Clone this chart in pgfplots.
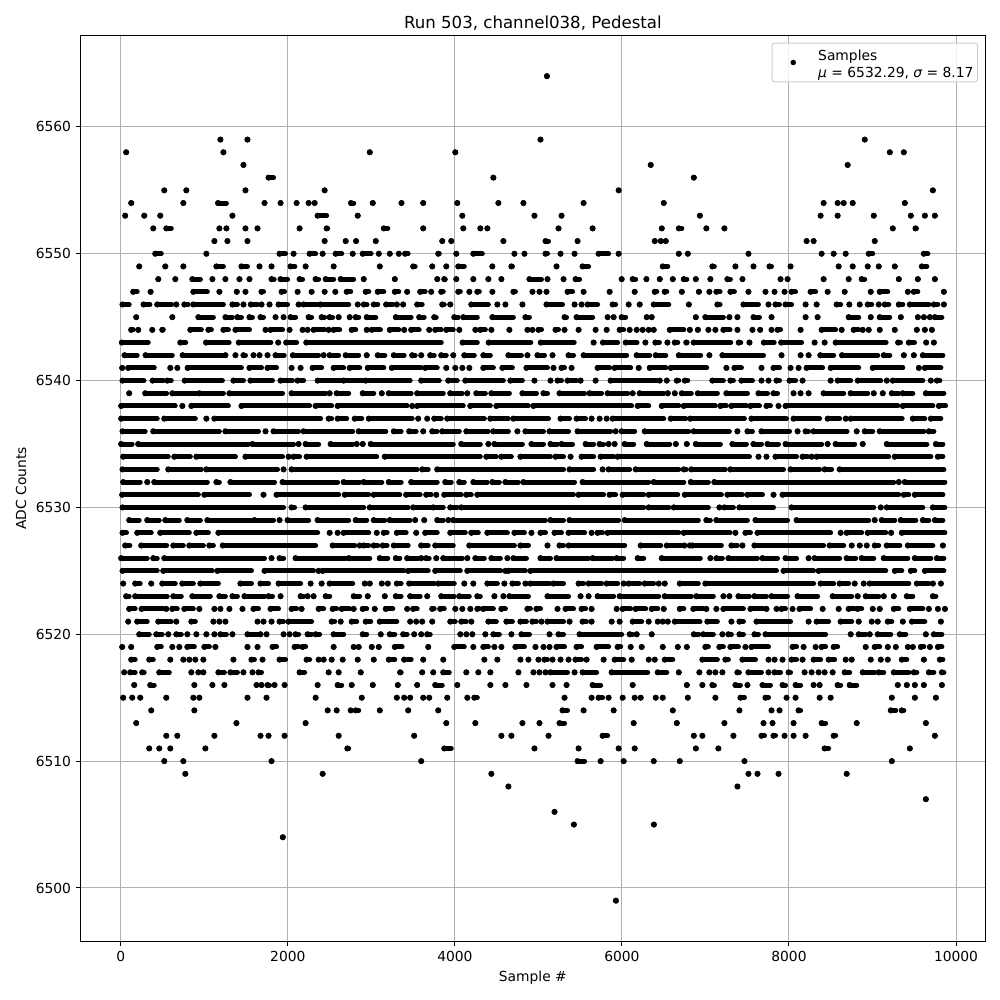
\documentclass[border=0pt]{standalone}
\usepackage{fontspec}
\setmainfont{DejaVu Sans}
\usepackage{pgfplots}
\usepackage{pgfplotstable}
\pgfplotsset{compat=1.18}
\definecolor{gridc}{HTML}{B0B0B0}
\definecolor{legc}{HTML}{CCCCCC}
% a = first sample of a run of touching dots, b = last sample of it, y = ADC level
\pgfplotstableread[row sep=\\]{
a b y\\
5102 5102 6564\\
1193 1193 6559\\1517 1517 6559\\5025 5025 6559\\8907 8907 6559\\
65 65 6558\\1229 1229 6558\\2981 2981 6558\\4005 4005 6558\\9207 9207 6558\\9375 9375 6558\\
1469 1469 6557\\6345 6345 6557\\8703 8703 6557\\
1769 1829 6556\\4461 4461 6556\\6861 6861 6556\\
521 521 6555\\785 785 6555\\1493 1493 6555\\2441 2441 6555\\5961 5961 6555\\9723 9723 6555\\
125 125 6554\\749 749 6554\\1165 1265 6554\\1721 1721 6554\\1913 1913 6554\\2105 2105 6554\\2249 2249 6554\\2321 2321 6554\\2757 2789 6554\\3017 3017 6554\\3361 3361 6554\\3621 3621 6554\\4029 4029 6554\\4521 4521 6554\\4821 4821 6554\\5541 5541 6554\\6501 6501 6554\\8415 8415 6554\\8583 8583 6554\\8655 8655 6554\\8763 8763 6554\\9387 9387 6554\\
53 53 6553\\281 281 6553\\473 473 6553\\1337 1337 6553\\2357 2465 6553\\2837 2837 6553\\4089 4089 6553\\4953 4953 6553\\5277 5277 6553\\6933 6933 6553\\8379 8379 6553\\8583 8583 6553\\9015 9015 6553\\9459 9459 6553\\9627 9627 6553\\9747 9747 6553\\
389 389 6552\\545 605 6552\\1181 1181 6552\\1265 1265 6552\\1493 1493 6552\\1637 1637 6552\\2141 2141 6552\\2465 2477 6552\\3149 3197 6552\\3621 3621 6552\\4101 4101 6552\\4305 4305 6552\\4389 4389 6552\\5241 5241 6552\\5649 5649 6552\\6477 6477 6552\\6681 6717 6552\\7011 7011 6552\\7227 7227 6552\\9243 9243 6552\\9515 9525 6552\\
1121 1121 6551\\1277 1277 6551\\1517 1517 6551\\2441 2441 6551\\2693 2693 6551\\2817 2817 6551\\3053 3053 6551\\3849 3849 6551\\3957 3957 6551\\4581 4581 6551\\5085 5121 6551\\5469 5469 6551\\6393 6393 6551\\6465 6465 6551\\6525 6525 6551\\8211 8211 6551\\8295 8295 6551\\9027 9027 6551\\
413 485 6550\\1025 1025 6550\\1901 1973 6550\\2069 2069 6550\\2261 2333 6550\\2417 2417 6550\\2573 2645 6550\\2777 2777 6550\\2897 2997 6550\\3089 3089 6550\\3221 3221 6550\\3329 3329 6550\\3405 3441 6550\\3801 3813 6550\\4017 4017 6550\\4221 4329 6550\\4713 4713 6550\\4833 4833 6550\\5085 5109 6550\\5265 5265 6550\\5433 5433 6550\\5721 5841 6550\\5961 5961 6550\\6681 6681 6550\\6789 6789 6550\\7515 7515 6550\\8391 8391 6550\\8535 8535 6550\\8679 8679 6550\\8955 9003 6550\\9615 9663 6550\\
221 221 6549\\533 533 6549\\749 749 6549\\1145 1229 6549\\1445 1517 6549\\1661 1661 6549\\1805 1805 6549\\2033 2085 6549\\2213 2213 6549\\2549 2549 6549\\3101 3101 6549\\3501 3525 6549\\3729 3729 6549\\3897 3897 6549\\4041 4113 6549\\4449 4449 6549\\4677 4689 6549\\5217 5217 6549\\5529 5601 6549\\6489 6549 6549\\7083 7107 6549\\7359 7359 6549\\7575 7575 6549\\7767 7791 6549\\8019 8019 6549\\8595 8595 6549\\8763 8763 6549\\8943 8943 6549\\9075 9075 6549\\9267 9267 6549\\9591 9651 6549\\
449 449 6548\\653 653 6548\\857 953 6548\\1097 1097 6548\\1253 1253 6548\\1421 1421 6548\\1541 1541 6548\\1805 1837 6548\\1913 1997 6548\\2141 2177 6548\\2333 2369 6548\\2453 2549 6548\\2633 2789 6548\\2909 2909 6548\\3281 3281 6548\\3789 3789 6548\\3873 3885 6548\\4017 4017 6548\\4221 4221 6548\\4401 4401 6548\\4557 4557 6548\\4893 5037 6548\\5109 5109 6548\\5301 5301 6548\\5445 5493 6548\\5997 5997 6548\\6129 6165 6548\\6293 6293 6548\\6453 6453 6548\\6609 6609 6548\\6741 6777 6548\\6885 6885 6548\\7059 7059 6548\\7263 7299 6548\\7443 7443 6548\\7899 7899 6548\\7983 7983 6548\\8415 8415 6548\\8715 8715 6548\\8871 8907 6548\\9315 9315 6548\\9543 9543 6548\\9747 9747 6548\\
149 197 6547\\357 357 6547\\869 1037 6547\\1181 1181 6547\\1389 1389 6547\\1493 1493 6547\\1685 1709 6547\\1925 1961 6547\\2117 2117 6547\\2285 2285 6547\\2441 2441 6547\\2569 2569 6547\\2705 2753 6547\\2933 2969 6547\\3077 3149 6547\\3281 3329 6547\\3429 3429 6547\\3585 3645 6547\\3717 3717 6547\\3837 3861 6547\\4041 4065 6547\\4173 4173 6547\\4269 4293 6547\\4449 4449 6547\\4701 4725 6547\\4929 4929 6547\\5013 5013 6547\\5097 5097 6547\\5349 5409 6547\\5541 5541 6547\\5853 5853 6547\\6153 6153 6547\\6393 6417 6547\\6513 6537 6547\\6717 6717 6547\\6921 6927 6547\\7047 7047 6547\\7131 7175 6547\\7299 7347 6547\\7515 7515 6547\\7719 7719 6547\\7827 7827 6547\\7947 7947 6547\\8031 8079 6547\\8259 8319 6547\\8463 8463 6547\\8667 8667 6547\\8979 8979 6547\\9087 9183 6547\\9423 9423 6547\\9495 9543 6547\\9855 9855 6547\\
21 101 6546\\273 349 6546\\437 609 6546\\665 665 6546\\761 809 6546\\869 1229 6546\\1337 1397 6546\\1469 1469 6546\\1557 1637 6546\\1685 1685 6546\\1781 1781 6546\\1889 1997 6546\\2129 2129 6546\\2189 2349 6546\\2389 2729 6546\\2837 2837 6546\\2909 2949 6546\\3029 3077 6546\\3177 3257 6546\\3305 3305 6546\\3381 3381 6546\\3549 3609 6546\\3849 3873 6546\\3945 3945 6546\\4197 4401 6546\\4509 4509 6546\\4605 4605 6546\\4809 4809 6546\\5097 5289 6546\\5433 5433 6546\\5517 5517 6546\\5589 5709 6546\\5889 5925 6546\\6081 6081 6546\\6213 6213 6546\\6381 6561 6546\\6801 6801 6546\\7143 7175 6546\\7455 7635 6546\\7755 7755 6546\\7839 7887 6546\\7959 8031 6546\\8199 8199 6546\\8331 8331 6546\\8571 8619 6546\\8723 8723 6546\\8847 8847 6546\\8943 8991 6546\\9075 9075 6546\\9147 9195 6546\\9315 9363 6546\\9447 9675 6546\\9735 9783 6546\\9855 9855 6546\\
185 185 6545\\617 617 6545\\929 1109 6545\\1253 1337 6545\\1397 1445 6545\\1541 1577 6545\\1673 1709 6545\\1853 1853 6545\\1949 1949 6545\\2033 2093 6545\\2249 2285 6545\\2405 2441 6545\\2501 2537 6545\\2609 2609 6545\\2741 2741 6545\\2813 2849 6545\\2945 3053 6545\\3293 3477 6545\\3573 3633 6545\\3753 3777 6545\\3993 4041 6545\\4101 4269 6545\\4449 4701 6545\\4845 4893 6545\\5313 5337 6545\\5457 5649 6545\\5829 5829 6545\\5901 5901 6545\\5997 6045 6545\\6297 6297 6545\\6357 6357 6545\\6885 6887 6545\\6999 7215 6545\\7287 7287 6545\\7383 7383 6545\\7575 7647 6545\\7791 7791 6545\\8199 8199 6545\\8343 8343 6545\\8715 8835 6545\\8979 8979 6545\\9087 9207 6545\\9339 9339 6545\\9543 9543 6545\\9615 9615 6545\\9687 9687 6545\\9747 9831 6545\\
125 149 6544\\209 209 6544\\377 377 6544\\497 509 6544\\833 965 6544\\1049 1085 6544\\1229 1289 6544\\1373 1541 6544\\1733 1733 6544\\1793 1937 6544\\2021 2021 6544\\2177 2177 6544\\2237 2237 6544\\2309 2441 6544\\2489 2489 6544\\2549 2621 6544\\2765 2813 6544\\2945 2945 6544\\3005 3109 6544\\3221 3329 6544\\3393 3393 6544\\3477 3573 6544\\3693 3693 6544\\3765 3837 6544\\3897 3981 6544\\4053 4053 6544\\4245 4245 6544\\4305 4365 6544\\4437 4437 6544\\4653 4653 6544\\4869 4869 6544\\4929 4929 6544\\5001 5037 6544\\5205 5241 6544\\5313 5313 6544\\5481 5481 6544\\5685 5685 6544\\5817 5817 6544\\5973 6021 6544\\6093 6093 6544\\6177 6177 6544\\6249 6249 6544\\6321 6321 6544\\6381 6381 6544\\6573 6741 6544\\6813 6813 6544\\6909 6915 6544\\7035 7035 6544\\7119 7119 6544\\7215 7295 6544\\7383 7383 6544\\7563 7563 6544\\7655 7655 6544\\7791 7791 6544\\7863 7899 6544\\8139 8139 6544\\8391 8559 6544\\8631 8631 6544\\8775 8835 6544\\8883 8883 6544\\8955 8955 6544\\9087 9087 6544\\9267 9267 6544\\9531 9531 6544\\9627 9627 6544\\9711 9711 6544\\
13 329 6543\\713 777 6543\\1021 1297 6543\\1413 1797 6543\\1885 1885 6543\\1981 2105 6543\\2221 3837 6543\\4093 4269 6543\\4405 4909 6543\\5029 5429 6543\\5661 5661 6543\\5773 5949 6543\\6045 6181 6543\\6281 6281 6543\\6401 6449 6543\\6545 6545 6543\\6633 6669 6543\\6771 6781 6543\\6859 7303 6543\\7399 7423 6543\\7527 7527 6543\\7699 7823 6543\\7907 8151 6543\\8307 8307 6543\\8427 8427 6543\\8559 9163 6543\\9307 9335 6543\\9435 9503 6543\\9643 9643 6543\\9735 9735 6543\\
45 197 6542\\297 617 6542\\741 1221 6542\\1253 1253 6542\\1373 1373 6542\\1469 1493 6542\\1589 1589 6542\\1661 1661 6542\\1757 1757 6542\\1853 1957 6542\\2061 2369 6542\\2429 2429 6542\\2501 2609 6542\\2693 2849 6542\\2945 2945 6542\\3077 3161 6542\\3269 3393 6542\\3489 3525 6542\\3597 3597 6542\\3705 3753 6542\\3837 3897 6542\\3981 3981 6542\\4113 4233 6542\\4341 4425 6542\\4641 4797 6542\\4869 4869 6542\\4989 5073 6542\\5169 5169 6542\\5361 5421 6542\\5541 6057 6542\\6177 6333 6542\\6405 6525 6542\\6681 6943 6542\\7047 7047 6542\\7203 7695 6542\\7911 7911 6542\\8139 8139 6542\\8235 8235 6542\\8375 8535 6542\\8635 9063 6542\\9135 9207 6542\\9375 9375 6542\\9495 9495 6542\\9603 9843 6542\\
17 17 6541\\89 401 6541\\593 593 6541\\677 677 6541\\801 1445 6541\\1541 1685 6541\\1757 1865 6541\\2045 2045 6541\\2153 2153 6541\\2297 2405 6541\\2549 2669 6541\\2741 2861 6541\\2957 3149 6541\\3245 3597 6541\\3645 3789 6541\\3897 3897 6541\\4005 4005 6541\\4089 4089 6541\\4173 4173 6541\\4341 4461 6541\\4569 4689 6541\\4857 5109 6541\\5181 5181 6541\\5277 5313 6541\\5397 5397 6541\\5709 5853 6541\\5913 6105 6541\\6201 6201 6541\\6333 6525 6541\\6585 7015 6541\\7251 7251 6541\\7347 7431 6541\\7671 7671 6541\\7815 7887 6541\\8019 8019 6541\\8115 8115 6541\\8211 8403 6541\\8499 8835 6541\\9003 9363 6541\\9555 9555 6541\\9627 9819 6541\\
21 277 6540\\381 509 6540\\557 605 6540\\765 1217 6540\\1349 1469 6540\\1553 1817 6540\\1913 2057 6540\\2117 2189 6540\\2357 2645 6540\\2669 2909 6540\\2933 3465 6540\\3597 3813 6540\\3921 4029 6540\\4125 4581 6540\\4665 4809 6540\\4953 4953 6540\\5145 5145 6540\\5229 5277 6540\\5349 5457 6540\\5505 5505 6540\\5685 5685 6540\\5865 6417 6540\\6453 6453 6540\\6537 6537 6540\\6657 6681 6540\\6753 6789 6540\\7083 7215 6540\\7299 7335 6540\\7431 7563 6540\\7671 7671 6540\\7755 7755 6540\\7851 7887 6540\\8007 8079 6540\\8163 8163 6540\\8499 8499 6540\\8583 8739 6540\\8823 9099 6540\\9171 9171 6540\\9243 9603 6540\\9699 9699 6540\\9771 9807 6540\\
101 101 6539\\293 549 6539\\617 909 6539\\941 1229 6539\\1301 1937 6539\\2045 2453 6539\\2501 2501 6539\\2585 2729 6539\\2897 3029 6539\\3125 3125 6539\\3209 3477 6539\\3549 3861 6539\\3945 4089 6539\\4149 4149 6539\\4257 4365 6539\\4437 4653 6539\\4809 4977 6539\\5061 5109 6539\\5253 5553 6539\\5613 5757 6539\\5829 6069 6539\\6129 6129 6539\\6213 6501 6539\\6549 6549 6539\\6633 6633 6539\\6717 6831 6539\\6909 7143 6539\\7251 7503 6539\\7635 7743 6539\\7815 7863 6539\\8055 8055 6539\\8139 8139 6539\\8235 8235 6539\\8415 8655 6539\\8739 8943 6539\\9015 9015 6539\\9123 9123 6539\\9231 9315 6539\\9363 9483 6539\\9639 9855 6539\\
5 653 6538\\737 737 6538\\845 1289 6538\\1445 2261 6538\\2333 2525 6538\\2597 3429 6538\\3489 3489 6538\\3549 4101 6538\\4185 4425 6538\\4497 4881 6538\\4941 6117 6538\\6189 6321 6538\\6477 6681 6538\\6741 7119 6538\\7179 7251 6538\\7311 7491 6538\\7539 7647 6538\\7731 7779 6538\\7875 7875 6538\\7959 9303 6538\\9363 9723 6538\\9795 9875 6538\\
5 437 6537\\521 893 6537\\1025 1025 6537\\1121 2393 6537\\2489 2525 6537\\2597 2705 6537\\2801 2885 6537\\2969 3489 6537\\3561 3561 6537\\3669 3669 6537\\3753 3837 6537\\3909 4353 6537\\4425 4641 6537\\4701 5121 6537\\5265 5373 6537\\5457 5565 6537\\5637 5637 6537\\5733 5733 6537\\5817 5817 6537\\5889 6501 6537\\6585 6765 6537\\6819 7467 6537\\7551 7971 6537\\8055 8367 6537\\8463 8607 6537\\8679 8679 6537\\8739 9355 6537\\9483 9627 6537\\9699 9819 6537\\
21 293 6536\\389 1181 6536\\1253 1649 6536\\1733 1733 6536\\1829 2129 6536\\2189 2777 6536\\2849 3173 6536\\3269 3357 6536\\3453 3537 6536\\3621 3621 6536\\3729 3789 6536\\3849 4053 6536\\4137 4401 6536\\4461 4641 6536\\4749 4749 6536\\4845 5061 6536\\5133 5361 6536\\5469 5865 6536\\5925 5925 6536\\5997 6153 6536\\6273 6801 6536\\6861 7287 6536\\7383 7383 6536\\7503 7563 6536\\7671 8007 6536\\8103 8103 6536\\8199 8235 6536\\8295 8695 6536\\8811 8811 6536\\8907 9003 6536\\9087 9615 6536\\9675 9735 6536\\
5 137 6535\\209 1529 6535\\1577 2069 6535\\2129 2129 6535\\2213 2369 6535\\2513 2777 6535\\2825 2825 6535\\2897 2897 6535\\2993 3981 6535\\4077 4305 6535\\4401 4401 6535\\4473 4809 6535\\4917 5061 6535\\5145 5229 6535\\5277 5409 6535\\5565 5661 6535\\5733 5781 6535\\5841 5841 6535\\5913 5913 6535\\6033 6141 6535\\6297 6573 6535\\6645 6645 6535\\6777 6777 6535\\6885 7179 6535\\7323 7491 6535\\7575 7671 6535\\7743 7875 6535\\7959 8391 6535\\8463 8463 6535\\8559 8787 6535\\8883 8883 6535\\9171 9651 6535\\9759 9843 6535\\
29 569 6534\\641 833 6534\\905 1373 6534\\1493 1937 6534\\2009 2009 6534\\2069 2141 6534\\2225 3065 6534\\3161 4305 6534\\4377 4497 6534\\4557 4677 6534\\4785 5145 6534\\5205 5301 6534\\5385 5385 6534\\5517 5661 6534\\5745 5901 6534\\5949 7527 6534\\7635 7635 6534\\7731 7731 6534\\7839 8091 6534\\8163 8223 6534\\8271 8271 6534\\8331 9195 6534\\9267 9699 6534\\9783 9843 6534\\
21 437 6533\\569 965 6533\\1025 1877 6533\\1949 1949 6533\\2045 3549 6533\\3609 3681 6533\\3789 5301 6533\\5373 5661 6533\\5769 5769 6533\\5841 6093 6533\\6165 6681 6533\\6741 6771 6533\\6831 7239 6533\\7299 7935 6533\\8019 8367 6533\\8427 8511 6533\\8607 9855 6533\\
29 233 6532\\317 317 6532\\401 1037 6532\\1145 1181 6532\\1313 1841 6532\\1937 2597 6532\\2669 2861 6532\\2909 3125 6532\\3209 3357 6532\\3477 3789 6532\\3885 3957 6532\\4053 4113 6532\\4221 4389 6532\\4449 4533 6532\\4605 4761 6532\\4821 5433 6532\\5529 6321 6532\\6381 6741 6532\\6825 7035 6532\\7107 9255 6532\\9315 9315 6532\\9387 9867 6532\\
17 929 6531\\1001 1541 6531\\1709 1709 6531\\1865 2609 6531\\2681 2969 6531\\3029 3341 6531\\3417 3585 6531\\3657 3717 6531\\3777 3777 6531\\3873 4077 6531\\4137 4197 6531\\4269 5421 6531\\5481 5781 6531\\5853 5925 6531\\6009 6261 6531\\6321 6669 6531\\6753 7191 6531\\7263 7443 6531\\7503 7683 6531\\7815 7815 6531\\7923 9315 6531\\9375 9435 6531\\9507 9843 6531\\
21 1949 6530\\2045 2081 6530\\2213 2909 6530\\2981 3441 6530\\3501 3717 6530\\3741 3861 6530\\3945 4029 6530\\4077 6261 6530\\6321 6561 6530\\6621 7035 6530\\7167 7167 6530\\7227 7335 6530\\7407 7815 6530\\8031 9015 6530\\9099 9099 6530\\9171 9603 6530\\9723 9867 6530\\
101 221 6529\\317 461 6529\\533 701 6529\\797 953 6529\\1037 1577 6529\\1601 1829 6529\\1901 1901 6529\\1997 2249 6529\\2357 2729 6529\\2813 2945 6529\\3029 3161 6529\\3221 3465 6529\\3525 3525 6529\\3633 3633 6529\\3789 3861 6529\\3921 3921 6529\\3981 5085 6529\\5145 5301 6529\\5373 5961 6529\\6033 6915 6529\\7011 7059 6529\\7131 7503 6529\\7599 7983 6529\\8091 8955 6529\\9027 9027 6529\\9111 9267 6529\\9339 9519 6529\\9603 9675 6529\\9747 9843 6529\\
21 69 6528\\197 365 6528\\473 821 6528\\905 1049 6528\\1169 2357 6528\\2501 2501 6528\\2597 2597 6528\\2669 2969 6528\\3065 3065 6528\\3149 3189 6528\\3305 3417 6528\\3537 3537 6528\\3645 3789 6528\\3945 4125 6528\\4197 4281 6528\\4389 4629 6528\\4713 4833 6528\\4917 4917 6528\\5025 5085 6528\\5193 5277 6528\\5361 5553 6528\\5637 5637 6528\\5709 5769 6528\\5829 6681 6528\\6741 7295 6528\\7359 7359 6528\\7479 7539 6528\\7623 8499 6528\\8619 8619 6528\\8691 8871 6528\\8943 9159 6528\\9223 9223 6528\\9351 9867 6528\\
53 109 6527\\245 549 6527\\629 749 6527\\821 989 6527\\1061 1109 6527\\1221 2333 6527\\2537 2801 6527\\2861 2861 6527\\2909 2969 6527\\3029 3077 6527\\3137 3189 6527\\3269 3441 6527\\3597 3681 6527\\3765 3981 6527\\4173 4713 6527\\4785 4881 6527\\5109 5109 6527\\5253 5301 6527\\5361 6033 6527\\6225 6465 6527\\6537 6741 6527\\6813 6861 6527\\6747 6747 6527\\6843 7191 6527\\7311 7383 6527\\7443 7443 6527\\7587 8415 6527\\8487 8655 6527\\8751 8751 6527\\8847 8847 6527\\8931 8931 6527\\9027 9075 6527\\9171 9327 6527\\9423 9723 6527\\9843 9843 6527\\
5 317 6526\\389 437 6526\\521 1721 6526\\1805 1805 6526\\1901 1949 6526\\2093 2693 6526\\2729 2981 6526\\3101 3197 6526\\3293 3341 6526\\3429 3561 6526\\3597 3597 6526\\3657 3693 6526\\3777 3777 6526\\3861 4089 6526\\4149 4149 6526\\4245 4353 6526\\4437 4545 6526\\4629 4629 6526\\4701 4857 6526\\5025 5145 6526\\5217 5601 6526\\5649 5889 6526\\5937 6021 6526\\6189 6261 6526\\6477 6939 6526\\7059 7059 6526\\7131 7203 6526\\7275 7623 6526\\7683 7863 6526\\7959 8091 6526\\8235 8235 6526\\8307 8607 6526\\8691 8799 6526\\8871 9015 6526\\9135 9423 6526\\9507 9699 6526\\9771 9855 6526\\
21 437 6525\\509 1097 6525\\1157 1565 6525\\1721 2309 6525\\2369 2369 6525\\2417 3393 6525\\3441 3681 6525\\3765 4065 6525\\4149 4549 6525\\4605 4605 6525\\4641 4845 6525\\4905 7851 6525\\7935 8295 6525\\8355 9159 6525\\9267 9351 6525\\9459 9507 6525\\9627 9855 6525\\
29 29 6524\\173 233 6524\\365 365 6524\\497 653 6524\\737 869 6524\\953 1169 6524\\1433 1565 6524\\1673 1769 6524\\1889 2153 6524\\2273 2273 6524\\2405 2405 6524\\2501 2777 6524\\2921 2921 6524\\2981 2981 6524\\3125 3125 6524\\3197 3197 6524\\3305 3357 6524\\3453 3753 6524\\3801 3993 6524\\4113 4113 6524\\4221 4221 6524\\4389 4509 6524\\4593 4593 6524\\4689 4761 6524\\4845 4845 6524\\4905 5133 6524\\5181 5301 6524\\5481 5541 6524\\5601 5757 6524\\5817 5949 6524\\6021 6021 6524\\6081 6213 6524\\6273 6381 6524\\6441 6441 6524\\6513 6513 6524\\6693 6915 6524\\6999 8295 6524\\8379 8535 6524\\8607 8715 6524\\8787 8787 6524\\8895 8895 6524\\8967 9435 6524\\9531 9675 6524\\9723 9723 6524\\9819 9819 6524\\
65 101 6523\\173 557 6523\\629 725 6523\\857 1073 6523\\1181 1253 6523\\1337 1397 6523\\1481 1721 6523\\1769 1817 6523\\1913 1913 6523\\2153 2189 6523\\2237 2237 6523\\2309 2309 6523\\2453 2501 6523\\2789 2861 6523\\2957 2957 6523\\3161 3161 6523\\3293 3357 6523\\3465 3585 6523\\3669 3669 6523\\3837 3993 6523\\4053 4173 6523\\4269 4305 6523\\4473 4473 6523\\4581 4581 6523\\4653 4881 6523\\5109 5361 6523\\5505 5505 6523\\5601 5601 6523\\5709 5901 6523\\5973 6441 6523\\6513 6831 6523\\6891 7095 6523\\7215 7215 6523\\7287 7287 6523\\7395 7527 6523\\7587 7731 6523\\7791 7983 6523\\8103 8343 6523\\8523 8751 6523\\8823 8823 6523\\8919 9075 6523\\9135 9135 6523\\9255 9255 6523\\9411 9483 6523\\9723 9759 6523\\
101 173 6522\\249 509 6522\\545 545 6522\\617 677 6522\\761 869 6522\\941 941 6522\\1121 1121 6522\\1193 1193 6522\\1301 1301 6522\\1457 1457 6522\\1589 1649 6522\\1793 1889 6522\\2045 2105 6522\\2165 2165 6522\\2369 2429 6522\\2537 2585 6522\\2645 2741 6522\\2789 2789 6522\\2897 2945 6522\\3041 3041 6522\\3173 3257 6522\\3429 3429 6522\\3501 3549 6522\\3729 3753 6522\\3825 3873 6522\\4005 4005 6522\\4089 4089 6522\\4185 4185 6522\\4269 4293 6522\\4341 4461 6522\\4557 4605 6522\\4869 4905 6522\\4977 5025 6522\\5229 5229 6522\\5325 5421 6522\\5517 5565 6522\\5637 5637 6522\\5937 5937 6522\\6009 6105 6522\\6165 6285 6522\\6357 6429 6522\\6501 6501 6522\\6693 6741 6522\\6855 6975 6522\\7011 7011 6522\\7131 7131 6522\\7215 7455 6522\\7539 7695 6522\\7731 7731 6522\\7851 7851 6522\\7911 7959 6522\\8043 8043 6522\\8127 8259 6522\\8403 8403 6522\\8595 8595 6522\\8715 8787 6522\\8823 8871 6522\\9003 9003 6522\\9087 9087 6522\\9255 9315 6522\\9447 9603 6522\\9675 9675 6522\\9783 9783 6522\\9867 9867 6522\\
89 89 6521\\197 317 6521\\449 605 6521\\665 665 6521\\845 893 6521\\1109 1109 6521\\1181 1181 6521\\1253 1253 6521\\1637 1637 6521\\1709 1709 6521\\1805 1805 6521\\1901 1949 6521\\2009 2285 6521\\2525 2561 6521\\2633 2633 6521\\2765 2825 6521\\2933 2993 6521\\3101 3305 6521\\3465 3465 6521\\3537 3537 6521\\3609 3609 6521\\3729 3729 6521\\3945 4005 6521\\4077 4137 6521\\4197 4197 6521\\4401 4497 6521\\4617 4689 6521\\4785 4857 6521\\4929 4977 6521\\5037 5037 6521\\5109 5301 6521\\5373 5373 6521\\5529 5577 6521\\5637 5637 6521\\5877 5877 6521\\5973 5973 6521\\6129 6237 6521\\6321 6321 6521\\6429 6429 6521\\6489 6489 6521\\6549 6549 6521\\6633 6935 6521\\7023 7143 6521\\7311 7311 6521\\7407 7455 6521\\7611 8019 6521\\8235 8235 6521\\8331 8475 6521\\8619 8751 6521\\8835 8835 6521\\8991 8991 6521\\9063 9063 6521\\9183 9231 6521\\9363 9363 6521\\9471 9627 6521\\9819 9819 6521\\
221 341 6520\\425 497 6520\\569 569 6520\\665 725 6520\\797 797 6520\\905 905 6520\\1025 1025 6520\\1121 1121 6520\\1193 1265 6520\\1337 1337 6520\\1517 1637 6520\\1673 1673 6520\\1745 1745 6520\\1949 1949 6520\\2021 2021 6520\\2093 2129 6520\\2237 2285 6520\\2333 2381 6520\\2549 2669 6520\\2897 2945 6520\\3113 3113 6520\\3221 3281 6520\\3381 3429 6520\\3513 3513 6520\\3597 3597 6520\\3669 3705 6520\\4065 4065 6520\\4137 4137 6520\\4209 4209 6520\\4365 4365 6520\\4461 4533 6520\\4677 4677 6520\\4797 4893 6520\\5133 5133 6520\\5241 5301 6520\\5493 5997 6520\\6093 6129 6520\\6177 6177 6520\\6357 6357 6520\\6861 6921 6520\\6975 7095 6520\\7203 7203 6520\\7275 7311 6520\\7407 7455 6520\\7587 7635 6520\\7719 8439 6520\\8739 8739 6520\\8835 8919 6520\\8967 8967 6520\\9063 9219 6520\\9327 9399 6520\\9639 9639 6520\\9735 9831 6520\\
17 17 6519\\125 125 6519\\437 485 6519\\617 617 6519\\701 701 6519\\797 881 6519\\1001 1061 6519\\1133 1133 6519\\1517 1517 6519\\1637 1637 6519\\1817 1865 6519\\2081 2129 6519\\2177 2213 6519\\2549 2549 6519\\2789 2789 6519\\2849 2849 6519\\3005 3005 6519\\3089 3089 6519\\3281 3369 6519\\3681 3681 6519\\3993 4113 6519\\4221 4221 6519\\4341 4401 6519\\4473 4473 6519\\4557 4557 6519\\4725 4833 6519\\4965 4965 6519\\5061 5061 6519\\5133 5133 6519\\5217 5313 6519\\5457 5517 6519\\5697 5841 6519\\5949 5985 6519\\6105 6105 6519\\6237 6237 6519\\6489 6489 6519\\6669 6669 6519\\6777 6777 6519\\6999 7035 6519\\7167 7215 6519\\7299 7395 6519\\7479 7479 6519\\7551 7755 6519\\8043 8091 6519\\8175 8175 6519\\8319 8319 6519\\8391 8439 6519\\8535 8583 6519\\8919 8919 6519\\9027 9087 6519\\9183 9183 6519\\9279 9279 6519\\9423 9423 6519\\9483 9483 6519\\9579 9615 6519\\9687 9687 6519\\9783 9831 6519\\
125 173 6518\\341 389 6518\\593 593 6518\\749 749 6518\\821 821 6518\\893 893 6518\\989 989 6518\\1349 1349 6518\\1565 1601 6518\\1697 1697 6518\\1901 1973 6518\\2225 2261 6518\\2369 2369 6518\\2429 2429 6518\\2525 2525 6518\\2657 2657 6518\\2837 2837 6518\\3029 3029 6518\\3209 3281 6518\\3393 3477 6518\\3621 3621 6518\\3861 3861 6518\\4353 4353 6518\\4509 4509 6518\\4785 4785 6518\\4881 4881 6518\\5001 5001 6518\\5073 5109 6518\\5169 5169 6518\\5265 5265 6518\\5361 5361 6518\\5445 5517 6518\\5577 5577 6518\\5781 5781 6518\\5913 6021 6518\\6117 6117 6518\\6321 6321 6518\\6393 6393 6518\\6513 6609 6518\\6963 7143 6518\\7239 7275 6518\\7443 7599 6518\\7755 7755 6518\\7827 7827 6518\\7923 7923 6518\\8031 8091 6518\\8163 8163 6518\\8295 8379 6518\\8475 8547 6518\\8679 8679 6518\\8751 8751 6518\\8979 8979 6518\\9099 9099 6518\\9183 9183 6518\\9351 9411 6518\\9615 9615 6518\\9807 9843 6518\\
41 41 6517\\113 173 6517\\257 281 6517\\461 581 6517\\845 845 6517\\929 929 6517\\989 989 6517\\1169 1241 6517\\1313 1397 6517\\1469 1469 6517\\1577 1577 6517\\1649 1685 6517\\2141 2201 6517\\2489 2489 6517\\2609 2609 6517\\2873 2873 6517\\3345 3357 6517\\3609 3609 6517\\3741 3741 6517\\3861 3933 6517\\4137 4137 6517\\4281 4281 6517\\4425 4425 6517\\4761 4761 6517\\4941 4941 6517\\5013 5013 6517\\5085 5085 6517\\5145 5349 6517\\5433 5433 6517\\5529 5697 6517\\5877 6309 6517\\6429 6537 6517\\6681 6681 6517\\6927 6927 6517\\7047 7047 6517\\7119 7119 6517\\7203 7203 6517\\7383 7407 6517\\7515 7671 6517\\7755 7755 6517\\7827 7899 6517\\7995 8019 6517\\8187 8187 6517\\8271 8271 6517\\8355 8355 6517\\8427 8427 6517\\8523 8523 6517\\8667 8727 6517\\8883 9027 6517\\9075 9135 6517\\9255 9435 6517\\9495 9531 6517\\9675 9735 6517\\9831 9855 6517\\
161 161 6516\\353 401 6516\\881 881 6516\\1097 1097 6516\\1241 1241 6516\\1625 1625 6516\\1685 1685 6516\\1757 1781 6516\\1841 1841 6516\\1961 1961 6516\\2357 2357 6516\\2597 2645 6516\\2765 2765 6516\\3017 3017 6516\\3317 3317 6516\\3549 3549 6516\\3765 3849 6516\\4029 4029 6516\\4425 4425 6516\\4605 4605 6516\\4857 4857 6516\\5169 5169 6516\\5337 5337 6516\\5649 5745 6516\\6129 6129 6516\\6777 6777 6516\\6963 6963 6516\\7083 7107 6516\\7359 7419 6516\\7503 7503 6516\\7683 7779 6516\\7923 7959 6516\\8079 8139 6516\\8295 8295 6516\\8367 8367 6516\\8583 8619 6516\\8727 8811 6516\\9303 9303 6516\\9411 9411 6516\\9507 9507 6516\\9615 9615 6516\\9831 9831 6516\\
29 29 6515\\137 137 6515\\233 233 6515\\545 545 6515\\869 869 6515\\941 941 6515\\1517 1517 6515\\1745 1745 6515\\2333 2333 6515\\2885 2885 6515\\3305 3305 6515\\3393 3393 6515\\3465 3465 6515\\3621 3621 6515\\3693 3693 6515\\3909 3909 6515\\4149 4149 6515\\4233 4269 6515\\5313 5313 6515\\5637 5637 6515\\5721 5769 6515\\5841 5841 6515\\6009 6009 6515\\6153 6153 6515\\6225 6225 6515\\6405 6405 6515\\6489 6489 6515\\6789 6789 6515\\7119 7119 6515\\7419 7467 6515\\7719 7755 6515\\7971 7971 6515\\8079 8079 6515\\8367 8367 6515\\8499 8499 6515\\9231 9231 6515\\9507 9507 6515\\9759 9759 6515\\
365 365 6514\\881 881 6514\\2477 2477 6514\\2585 2585 6514\\2753 2753 6514\\2813 2849 6514\\3101 3101 6514\\3441 3441 6514\\3801 3801 6514\\5289 5349 6514\\5541 5541 6514\\5901 5901 6514\\6609 6609 6514\\7407 7407 6514\\7791 7791 6514\\7887 7887 6514\\8115 8139 6514\\9219 9279 6514\\9351 9375 6514\\
185 185 6513\\1385 1385 6513\\2213 2213 6513\\3897 3897 6513\\4245 4245 6513\\4809 4809 6513\\5013 5013 6513\\5253 5313 6513\\6141 6141 6513\\6657 6657 6513\\7227 7227 6513\\7695 7695 6513\\7803 7803 6513\\8055 8055 6513\\8391 8439 6513\\8811 8811 6513\\9639 9639 6513\\
545 545 6512\\677 677 6512\\1121 1121 6512\\1673 1673 6512\\1769 1769 6512\\1961 1961 6512\\2609 2609 6512\\3513 3513 6512\\4557 4557 6512\\4677 4677 6512\\5121 5121 6512\\5769 5829 6512\\6861 6861 6512\\6963 6963 6512\\7335 7335 6512\\7671 7707 6512\\7815 7839 6512\\7947 7947 6512\\8055 8055 6512\\8199 8199 6512\\8535 8559 6512\\9747 9747 6512\\
341 341 6511\\461 461 6511\\593 593 6511\\1013 1013 6511\\2713 2729 6511\\3873 3957 6511\\4953 4953 6511\\5481 5481 6511\\5961 5961 6511\\6153 6153 6511\\6885 6885 6511\\7155 7155 6511\\8427 8475 6511\\9447 9447 6511\\
521 521 6510\\749 749 6510\\1805 1805 6510\\3597 3597 6510\\5469 5553 6510\\5745 5745 6510\\6021 6021 6510\\6381 6381 6510\\6693 6693 6510\\7467 7467 6510\\9231 9231 6510\\
773 773 6509\\2417 2417 6509\\4437 4437 6509\\7515 7515 6509\\7623 7623 6509\\7875 7875 6509\\8691 8691 6509\\
4641 4641 6508\\7383 7383 6508\\
9639 9639 6507\\
5193 5193 6506\\
5425 5425 6505\\6383 6383 6505\\
1940 1940 6504\\
5928 5928 6499\\
}\runs
\begin{document}
\begin{tikzpicture}
\path[use as bounding box] (0,0) rectangle (720bp,720bp);
\begin{axis}[
  at={(58.15bp,42.48bp)}, anchor=south west,
  scale only axis, width=651.05bp, height=651.9bp,
  xmin=-479, xmax=10347, ymin=6495.82, ymax=6567.2,
  xtick={0,2000,4000,6000,8000,10000},
  ytick={6500,6510,6520,6530,6540,6550,6560},
  scaled x ticks=false, scaled y ticks=false,
  /pgf/number format/1000 sep={},
  /pgf/number format/assume math mode=true,
  tick align=outside, tick pos=left,
  major tick length=3.5bp,
  every tick/.style={black,line width=0.72bp},
  axis line style={line width=0.72bp},
  grid=major, major grid style={gridc,line width=0.72bp},
  tick label style={font=\fontsize{10}{12}\selectfont},
  label style={font=\fontsize{10}{12}\selectfont},
  title style={font=\fontsize{12}{14}\selectfont,yshift=-5.8bp},
  title={Run 503, channel038, Pedestal},
  xlabel={Sample \#}, ylabel={ADC Counts},
  legend style={at={(1,1)},xshift=-5bp,yshift=-5bp,anchor=north east,
    draw=legc,line width=0.72bp,rounded corners=2bp,fill=white,fill opacity=0.8,text opacity=1,
    font=\fontsize{10}{12}\selectfont,inner xsep=3bp,inner ysep=2.2bp},
  legend cell align=left,
  legend image code/.code={\path[draw=none] (0,0) -- (28.2bp,0); \fill[black,draw=none,fill opacity=1] (12.2bp,0) circle (1.98bp);},
]
\addplot[only marks, mark=*, mark size=1.98bp, mark options={draw=none,fill=black},
  error bars/.cd, x dir=plus, x explicit, error mark=none,
  error bar style={black,line width=3.6bp,line cap=round}]
  table[x=a,y=y,x error expr=\thisrow{b}-\thisrow{a}]{\runs};
\addlegendentry{\begin{tabular}[c]{@{}l@{\hspace{-2bp}}}Samples\\{\itshape μ} = 6532.29, {\itshape σ} = 8.17\rule[-11bp]{0pt}{0pt}\end{tabular}}
\end{axis}
\end{tikzpicture}
\end{document}
